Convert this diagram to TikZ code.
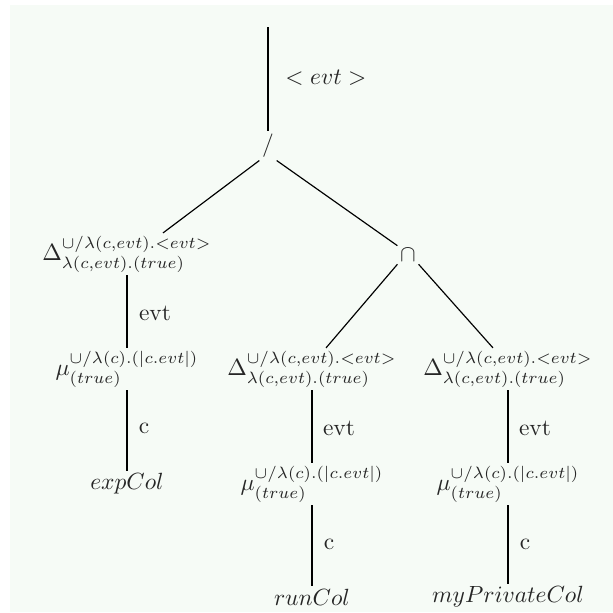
\documentclass[tikz,border=0pt]{standalone}
\usetikzlibrary{calc}
\definecolor{bgc}{RGB}{246,251,246}
\begin{document}
\begin{tikzpicture}[x=0.015cm,y=-0.015cm,
  every node/.style={inner sep=1pt, text=black!85},
  conn/.style={draw=black, line width=0.5pt},
  lbl/.style={inner sep=0pt}]
\useasboundingbox (0,0) rectangle (613,612);
\fill[bgc] (10,5) rectangle (613,612);
% nodes
\coordinate (top) at (268,27);
\node (slash) at (268,146) {$/$};
\node (d1) at (127,254) {$\Delta^{\cup/\lambda(c,evt).<evt>}_{\lambda(c,evt).(true)}$};
\node (m1) at (127,369) {$\mu^{\cup/\lambda(c).(|c.evt|)}_{(true)}$};
\node (e1) at (127,484) {$expCol$};
\node (cap) at (408,255) {$\cap$};
\node (d2) at (312,369) {$\Delta^{\cup/\lambda(c,evt).<evt>}_{\lambda(c,evt).(true)}$};
\node (m2) at (312,484) {$\mu^{\cup/\lambda(c).(|c.evt|)}_{(true)}$};
\node (e2) at (312,597) {$runCol$};
\node (d3) at (508,369) {$\Delta^{\cup/\lambda(c,evt).<evt>}_{\lambda(c,evt).(true)}$};
\node (m3) at (508,484) {$\mu^{\cup/\lambda(c).(|c.evt|)}_{(true)}$};
\node (e3) at (508,597) {$myPrivateCol$};
% labels
\node[lbl] (l0) at (326,78) {$< evt >$};
\node[lbl] (l1) at (155,313) {evt};
\node[lbl] (l2) at (144,428) {c};
\node[lbl] (l3) at (339,428) {evt};
\node[lbl] (l4) at (329,544) {c};
\node[lbl] (l5) at (535,428) {evt};
\node[lbl] (l6) at (525,544) {c};
% connectors
\draw[conn] (top) -- (slash.north);
\draw[conn] (slash.south west) -- ($(d1.north)+(36,0)$);
\draw[conn] (slash.south east) -- (cap.north west);
\draw[conn] (cap.south west) -- ($(d2.north)+(14,0)$);
\draw[conn] (cap.south east) -- ($(d3.north)+(-15,0)$);
\draw[conn] (d1.south) -- (m1.north);
\draw[conn] (m1.south) -- (e1.north);
\draw[conn] (d2.south) -- (m2.north);
\draw[conn] (m2.south) -- (e2.north);
\draw[conn] (d3.south) -- (m3.north);
\draw[conn] (m3.south) -- (e3.north);
\end{tikzpicture}
\end{document}
